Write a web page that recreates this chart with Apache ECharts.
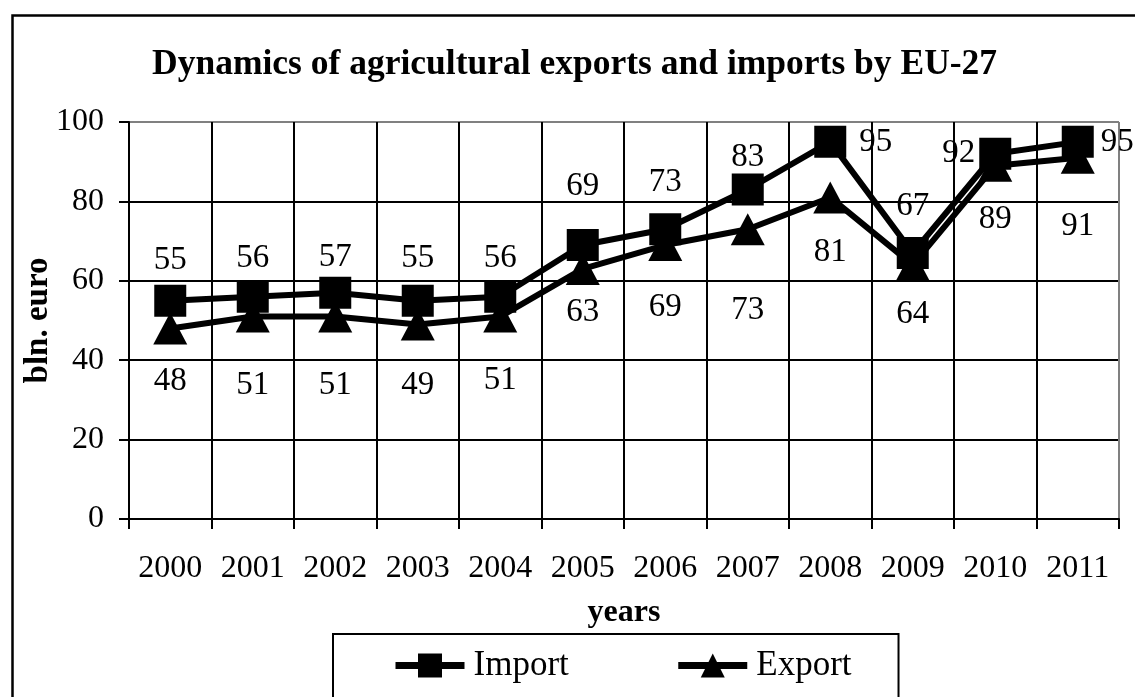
<!DOCTYPE html>
<html>
<head>
<meta charset="utf-8">
<script src="https://cdn.jsdelivr.net/npm/echarts@6/dist/echarts.min.js"></script>
<style>
html,body{margin:0;padding:0;background:#fff;}
#chart{width:1135px;height:697px;}
</style>
</head>
<body>
<div id="chart"></div>
<script>
// ---- data ----
const years = ['2000','2001','2002','2003','2004','2005','2006','2007','2008','2009','2010','2011'];
const importValues = [55, 56, 57, 55, 56, 69, 73, 83, 95, 67, 92, 95];
const exportValues = [48, 51, 51, 49, 51, 63, 69, 73, 81, 64, 89, 91];
const yAxisMin = 0, yAxisMax = 100, yAxisStep = 20;

// ---- label layout (style only) ----
const importLabelPos = ['top','top','top','top','top','top','top','top','right','top','left','right'];
const importLabelGap = [8, 6, 3, 10, 6, 26, 14, 0, 13, 14, 4, 7];
const exportLabelGap = [20, 36, 36, 28, 31, 11, 30, 49, 22, 17, 21, 36];

const FONT = "'Liberation Serif','Times New Roman',serif";
const chart = echarts.init(document.getElementById('chart'), null, {renderer: 'canvas'});

const xSplitColors = years.map(() => '#000').concat(['#808080']);
const ySplitColors = [];
for (let v = yAxisMin; v < yAxisMax; v += yAxisStep) ySplitColors.push('#000');
ySplitColors.push('#808080');

const option = {
  backgroundColor: '#fff',
  animation: false,
  title: {
    text: 'Dynamics of agricultural exports and imports by EU-27',
    left: 152, top: 47,
    padding: 0,
    textStyle: {fontFamily: FONT, fontWeight: 'bold', fontSize: 35.5, color: '#000'}
  },
  graphic: [{
    type: 'rect', left: 10, top: 13, silent: true, z: -1,
    shape: {width: 1140, height: 720},
    style: {fill: 'none', stroke: '#000', lineWidth: 2.5}
  }],
  legend: {
    left: 333, top: 634,
    padding: [14, 47, 40, 59],
    borderColor: '#000', borderWidth: 2,
    itemWidth: 69, itemHeight: 30, itemGap: 106,
    lineStyle: {width: 7},
    textStyle: {fontFamily: FONT, fontSize: 35, color: '#000', padding: [0, 0, 0, 4]},
    data: ['Import', 'Export']
  },
  grid: {left: 129, right: 16, top: 122, bottom: 178, containLabel: false},
  xAxis: {
    type: 'category', data: years, boundaryGap: true,
    name: 'years', nameLocation: 'middle', nameGap: 78,
    nameTextStyle: {fontFamily: FONT, fontWeight: 'bold', fontSize: 32, color: '#000'},
    axisLine: {show: true, lineStyle: {color: '#000', width: 2}},
    axisTick: {show: true, alignWithLabel: false, length: 10, lineStyle: {color: '#000', width: 2}},
    axisLabel: {fontFamily: FONT, fontSize: 32, color: '#000', margin: 34, interval: 0},
    splitLine: {show: true, lineStyle: {color: xSplitColors, width: 2}}
  },
  yAxis: {
    type: 'value', min: yAxisMin, max: yAxisMax, interval: yAxisStep,
    name: 'bln. euro', nameLocation: 'middle', nameGap: 74, nameRotate: 90,
    nameMoveOverlap: false,
    nameTextStyle: {fontFamily: FONT, fontWeight: 'bold', fontSize: 33, color: '#000'},
    axisLine: {show: true, lineStyle: {color: '#000', width: 2}},
    axisTick: {show: true, length: 10, lineStyle: {color: '#000', width: 2}},
    axisLabel: {fontFamily: FONT, fontSize: 32, color: '#000', margin: 25},
    splitLine: {show: true, lineStyle: {color: ySplitColors, width: 2}}
  },
  series: [
    {
      name: 'Import', type: 'line',
      symbol: 'rect', symbolSize: 32,
      itemStyle: {color: '#000'},
      lineStyle: {color: '#000', width: 6},
      data: importValues.map((v, i) => ({
        value: v,
        label: {position: importLabelPos[i], distance: importLabelGap[i]}
      })),
      label: {show: true, fontFamily: FONT, fontSize: 33, color: '#000'},
      z: 3
    },
    {
      name: 'Export', type: 'line',
      symbol: 'triangle', symbolSize: [34, 32],
      itemStyle: {color: '#000'},
      lineStyle: {color: '#000', width: 6},
      data: exportValues.map((v, i) => ({
        value: v,
        label: {position: 'bottom', distance: exportLabelGap[i]}
      })),
      label: {show: true, fontFamily: FONT, fontSize: 33, color: '#000'},
      z: 2
    }
  ]
};
chart.setOption(option);
</script>
</body>
</html>
